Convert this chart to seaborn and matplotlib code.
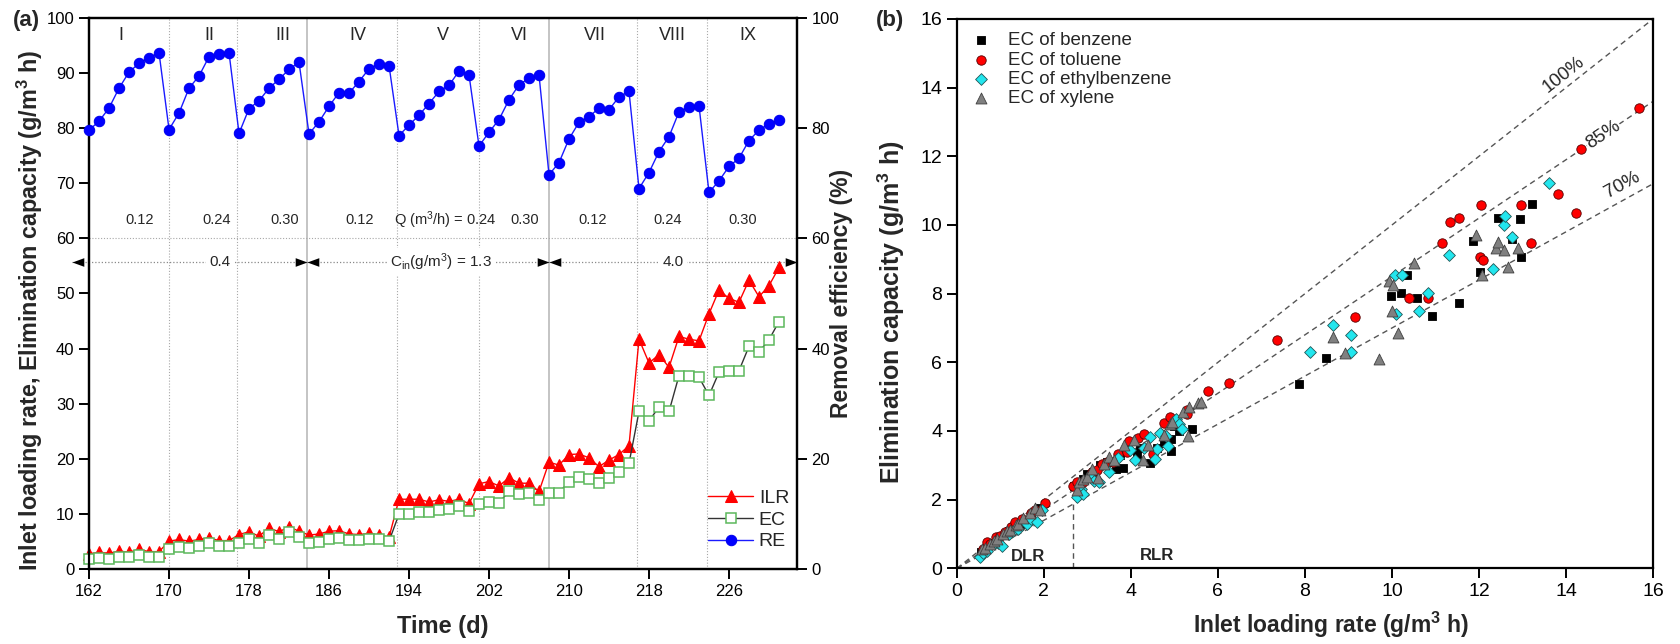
import numpy as np
import pandas as pd
import matplotlib
matplotlib.use("Agg")
import matplotlib.pyplot as plt
import seaborn as sns

# ---------------- data: panel (a), daily operation ----------------
days = list(range(162, 232))
ilr = [2.8, 3.1, 2.9, 3.3, 3.1, 3.6, 3.2, 3.2,
       5.1, 5.4, 5.1, 5.4, 5.7, 5.2, 5.2,
       6.3, 6.8, 6.0, 7.5, 6.8, 7.7, 6.9,
       6.2, 6.4, 6.9, 7.0, 6.4, 6.3, 6.5, 6.2, 5.8,
       12.7, 12.7, 12.7, 12.2, 12.6, 12.3, 12.7, 11.9,
       15.5, 15.9, 15.1, 16.6, 15.6, 15.6, 14.1,
       19.4, 18.9, 20.8, 20.9, 20.2, 18.6, 19.8, 20.8, 22.4,
       41.7, 37.4, 38.9, 36.6, 42.2, 41.7, 41.4,
       46.3, 50.6, 49.1, 48.4, 52.4, 49.4, 51.4, 54.7]
ec = [1.9, 2.0, 1.8, 2.3, 2.2, 2.6, 2.2, 2.3,
      3.7, 4.1, 3.9, 4.3, 4.8, 4.3, 4.2,
      4.8, 5.5, 4.7, 6.3, 5.5, 6.7, 5.9,
      4.8, 5.0, 5.5, 5.7, 5.3, 5.3, 5.5, 5.4, 5.1,
      10.0, 10.1, 10.3, 10.3, 10.7, 10.9, 11.5, 10.6,
      11.8, 12.2, 12.1, 14.1, 13.6, 13.8, 12.6,
      13.8, 13.9, 15.9, 16.7, 16.4, 15.6, 16.5, 17.6, 19.2,
      28.6, 26.9, 29.4, 28.6, 35.1, 35.0, 34.8,
      31.5, 35.7, 35.9, 36.0, 40.4, 39.4, 41.6, 44.9]
re = [79.6, 81.2, 83.6, 87.2, 90.1, 91.7, 92.7, 93.6,
      79.7, 82.7, 87.2, 89.4, 92.9, 93.4, 93.6,
      79.0, 83.5, 84.9, 87.2, 88.8, 90.6, 91.9,
      78.9, 81.1, 83.9, 86.4, 86.3, 88.4, 90.7, 91.6, 91.3,
      78.6, 80.5, 82.3, 84.4, 86.6, 87.7, 90.3, 89.6,
      76.7, 79.2, 81.5, 85.1, 87.8, 89.0, 89.6,
      71.5, 73.7, 78.0, 81.0, 82.0, 83.6, 83.3, 85.6, 86.6,
      69.0, 71.9, 75.7, 78.4, 82.9, 83.8, 84.0,
      68.3, 70.4, 73.0, 74.5, 77.7, 79.6, 80.7, 81.4]

phase_names = ["I", "II", "III", "IV", "V", "VI", "VII", "VIII", "IX"]
phase_label_x = [165.2, 174.0, 181.4, 188.9, 197.4, 205.0, 212.6, 220.3, 227.9]
flow_labels = ["0.12", "0.24", "0.30", "0.12", "Q (m$^3$/h) = 0.24", "0.30", "0.12", "0.24", "0.30"]
flow_label_x = [167.1, 174.8, 181.6, 189.1, 197.6, 205.6, 212.4, 219.9, 227.4]
conc_labels = ["0.4", "C$_{\\mathrm{in}}$(g/m$^3$) = 1.3", "4.0"]
conc_label_x = [175.1, 197.2, 220.4]
conc_spans = [(160.3, 183.8), (183.8, 208.0), (208.0, 232.8)]
minor_bounds = [170.0, 176.8, 192.8, 201.0, 216.8, 223.8]
major_bounds = [183.8, 208.0]

# ---------------- data: panel (b), EC vs inlet loading ----------------
benz_x = [0.55, 0.6, 0.75, 0.85, 0.95, 1.1, 1.2, 1.3, 1.45, 1.5, 1.7, 1.9,
          2.7, 2.9, 3.0, 3.13, 3.3, 3.45, 3.65, 3.75, 3.82, 3.9, 4.13, 4.2, 4.44, 4.6,
          4.75, 4.91, 4.93, 5.0, 5.1, 5.40, 7.87, 8.49, 9.97, 10.20, 10.34, 10.57, 10.91,
          11.55, 11.87, 12.02, 12.44, 12.75, 12.94, 12.96, 13.23]
benz_y = [0.48, 0.5, 0.68, 0.75, 0.85, 1.0, 1.1, 1.2, 1.3, 1.35, 1.55, 1.75,
          2.4, 2.6, 2.75, 2.81, 3.0, 3.1, 2.88, 3.3, 2.91, 3.47, 3.32, 3.5, 3.07, 3.5,
          3.65, 3.42, 3.78, 4.15, 4.0, 4.07, 5.38, 6.14, 7.94, 8.01, 8.54, 7.88, 7.35,
          7.74, 9.54, 8.64, 10.21, 9.58, 10.18, 9.08, 10.61]
tol_x = [0.6, 0.68, 0.75, 0.9, 1.0, 1.1, 1.25, 1.33, 1.5, 1.7, 1.8, 2.02,
         2.66, 2.75, 2.9, 3.1, 3.21, 3.33, 3.45, 3.59, 3.70, 3.90, 3.95, 4.17, 4.3,
         4.51, 4.76, 4.9, 5.05, 5.28, 5.3, 5.78, 6.26, 7.36, 9.15, 10.40, 10.84, 11.16,
         11.33, 11.54, 12.03, 12.09, 12.05, 12.97, 13.2, 13.81, 14.22, 14.34, 15.68]
tol_y = [0.55, 0.77, 0.7, 0.9, 0.95, 1.05, 1.2, 1.35, 1.45, 1.6, 1.7, 1.90,
         2.40, 2.5, 2.5, 2.8, 2.86, 3.05, 3.1, 3.10, 3.32, 3.39, 3.7, 3.81, 3.9,
         3.34, 4.22, 4.4, 4.27, 4.61, 4.5, 5.17, 5.40, 6.65, 7.33, 7.88, 7.88, 9.48,
         10.10, 10.20, 9.08, 8.98, 10.57, 10.57, 9.48, 10.89, 10.36, 12.20, 13.40]
eth_x = [0.53, 0.6, 0.7, 0.85, 0.95, 1.03, 1.2, 1.3, 1.4, 1.6, 1.7, 1.83, 1.95,
         2.77, 2.85, 2.90, 3.05, 3.15, 3.26, 3.5, 3.7, 3.98, 4.10, 4.3, 4.44, 4.56, 4.59,
         4.67, 4.8, 4.86, 5.03, 5.1, 5.18, 8.11, 8.65, 9.06, 9.06, 10.07, 10.09, 10.22,
         10.63, 10.82, 11.32, 12.33, 12.57, 12.6, 12.75, 13.6]
eth_y = [0.33, 0.45, 0.5, 0.7, 0.75, 0.64, 1.0, 1.1, 1.15, 1.3, 1.45, 1.35, 1.7,
         2.08, 2.3, 2.17, 2.66, 2.55, 2.51, 2.8, 3.2, 3.46, 3.15, 3.5, 3.83, 3.17, 3.49,
         3.93, 3.85, 3.56, 4.36, 4.2, 4.07, 6.31, 7.08, 6.80, 6.31, 8.53, 7.41, 8.55,
         7.49, 8.01, 9.13, 8.73, 10.0, 10.26, 9.66, 11.22]
xyl_x = [0.57, 0.65, 0.75, 0.85, 0.92, 1.05, 1.15, 1.22, 1.35, 1.4, 1.53, 1.68, 1.8, 1.91,
         2.75, 2.8, 2.9, 2.99, 3.1, 3.24, 3.39, 3.5, 3.6, 3.85, 4.06, 4.28, 4.4, 4.75,
         4.89, 4.95, 5.2, 5.32, 5.34, 5.55, 5.6, 8.64, 8.92, 9.71, 9.93, 9.99, 10.03,
         10.13, 10.51, 11.93, 12.06, 12.39, 12.44, 12.57, 12.66, 12.9]
xyl_y = [0.57, 0.6, 0.7, 0.8, 0.86, 1.0, 1.1, 1.11, 1.25, 1.3, 1.47, 1.6, 1.75, 1.69,
         2.28, 2.52, 2.6, 2.67, 2.9, 2.62, 3.05, 3.25, 3.15, 3.6, 3.75, 3.15, 3.6, 3.87,
         4.2, 4.25, 4.55, 3.85, 4.71, 4.82, 4.85, 6.73, 6.28, 6.11, 8.38, 7.50, 8.24,
         6.86, 8.89, 9.71, 8.54, 9.32, 9.51, 9.28, 8.77, 9.32]

efficiency_lines = [1.0, 0.85, 0.70]
efficiency_labels = ["100%", "85%", "70%"]
efficiency_label_xy = [(13.94, 14.37), (14.86, 12.62), (15.3, 11.17)]
dlr_rlr_boundary = 2.66

# ---------------- style ----------------
sns.set_style("ticks")
plt.rcParams["font.family"] = ["Liberation Sans", "DejaVu Sans"]
plt.rcParams["mathtext.fontset"] = "custom"
plt.rcParams["mathtext.rm"] = "Liberation Sans"
plt.rcParams["mathtext.it"] = "Liberation Sans:italic"
plt.rcParams["mathtext.bf"] = "Liberation Sans:bold"
plt.rcParams["axes.linewidth"] = 1.6
plt.rcParams["axes.edgecolor"] = "black"

fig = plt.figure(figsize=(16.8, 6.44), dpi=100)
axa = fig.add_axes([0.0530, 0.1160, 0.4214, 0.8568])
axb = fig.add_axes([0.5696, 0.1175, 0.4143, 0.8530])

# ---------------- panel (a) ----------------
df = pd.DataFrame({"day": days, "ILR": ilr, "EC": ec, "RE": re})

for xv in minor_bounds:
    axa.axvline(xv, color="#a8a8a8", ls=(0, (1, 1.6)), lw=0.8, zorder=0)
for xv in major_bounds:
    axa.axvline(xv, color="#c4c4c4", ls="-", lw=1.4, zorder=0)
axa.axhline(60, color="#a8a8a8", ls=(0, (1, 1.6)), lw=0.8, zorder=0)

sns.lineplot(data=df, x="day", y="ILR", ax=axa, color="#ff0000", lw=1.0,
             marker="^", markersize=8, markeredgecolor="#ff0000", clip_on=False, zorder=3)
h_ilr = axa.lines[-1]
sns.lineplot(data=df, x="day", y="EC", ax=axa, color="#333333", lw=1.0,
             marker="s", markersize=6.5, markerfacecolor="white", markeredgecolor="#5cb85c",
             markeredgewidth=1.1, clip_on=False, zorder=4)
h_ec = axa.lines[-1]

axr = axa.twinx()
sns.lineplot(data=df, x="day", y="RE", ax=axr, color="#1a1aff", lw=1.0,
             marker="o", markersize=7.5, markeredgecolor="#0000ee", markerfacecolor="#0000ff",
             clip_on=False, zorder=3)
h_re = axr.lines[-1]

axa.set_xlim(162, 232.8)
axa.set_ylim(0, 100)
axr.set_ylim(0, 100)
axa.set_xticks(np.arange(162, 227, 8))
axa.set_yticks(np.arange(0, 101, 10))
axr.set_yticks(np.arange(0, 101, 20))
for a in (axa, axr):
    a.tick_params(direction="out", length=7, width=1.4, labelsize=12, colors="black")
    for s in a.spines.values():
        s.set_visible(True)
        s.set_linewidth(1.6)
        s.set_color("black")

axa.set_xlabel("Time (d)", fontsize=17, fontweight="bold")
axa.xaxis.set_label_coords(0.5, -0.083)
axa.set_ylabel("Inlet loading rate, Elimination capacity (g/m$^{\\mathbf{3}}$ h)",
               fontsize=16.8, fontweight="bold")
axa.yaxis.set_label_coords(-0.062, 0.47)
axr.set_ylabel("Removal efficiency (%)", fontsize=16.5, fontweight="bold")
axr.yaxis.set_label_coords(1.046, 0.5)

for name, xv in zip(phase_names, phase_label_x):
    axa.text(xv, 96.8, name, ha="center", va="center", fontsize=13)
for lab, xv in zip(flow_labels, flow_label_x):
    axa.text(xv, 63.3, lab, ha="center", va="center", fontsize=10.5)

right_head = [(0, 0), (-3, 1.1), (-3, -1.1), (0, 0)]
left_head = [(0, 0), (3, 1.1), (3, -1.1), (0, 0)]
y_conc = 55.7
for (x0, x1), lab, xt in zip(conc_spans, conc_labels, conc_label_x):
    axa.plot([x0, x1], [y_conc, y_conc], ls=(0, (1, 1.6)), color="#8a8a8a", lw=0.9,
             clip_on=False, zorder=2)
    axa.plot([x0], [y_conc], marker=left_head, ms=17, color="black", mew=0, clip_on=False, zorder=5)
    axa.plot([x1], [y_conc], marker=right_head, ms=17, color="black", mew=0, clip_on=False, zorder=5)
    axa.text(xt, y_conc, lab, ha="center", va="center", fontsize=11, zorder=4,
             bbox=dict(fc="white", ec="none", pad=2.5))

axa.legend([h_ilr, h_ec, h_re], ["ILR", "EC", "RE"], loc="lower right",
           bbox_to_anchor=(1.0, 0.02), frameon=False, fontsize=14,
           handlelength=2.3, handletextpad=0.3, labelspacing=0.22, borderaxespad=0.0)
axr.set_zorder(axa.get_zorder() + 1)
axr.patch.set_visible(False)

fig.text(0.016, 0.968, "(a)", fontsize=16, fontweight="bold", ha="center", va="center")

# ---------------- panel (b) ----------------
xx = np.array([0, 16])
for k in efficiency_lines:
    axb.plot(xx, k * xx, ls=(0, (4, 3)), color="#555555", lw=1.0, zorder=1)
axb.plot([dlr_rlr_boundary, dlr_rlr_boundary], [0, 1.93], ls=(0, (4, 3)),
         color="#555555", lw=1.0, zorder=1)

series = [
    (benz_x, benz_y, "EC of benzene", "s", "black", "black", 30),
    (tol_x, tol_y, "EC of toluene", "o", "#ff0000", "#550000", 46),
    (eth_x, eth_y, "EC of ethylbenzene", "D", "#22e6ee", "#225555", 36),
    (xyl_x, xyl_y, "EC of xylene", "^", "#808080", "#404040", 62),
]
for sx, sy, lab, mk, fc, edge, sz in series:
    sns.scatterplot(x=sx, y=sy, ax=axb, marker=mk, color=fc, edgecolor=edge,
                    linewidth=0.6, s=sz, label=lab, zorder=3, clip_on=False)

axb.set_xlim(0, 16)
axb.set_ylim(0, 16)
axb.set_xticks(np.arange(0, 17, 2))
axb.set_yticks(np.arange(0, 17, 2))
axb.tick_params(direction="out", length=7, width=1.4, labelsize=14, colors="black")
for s in axb.spines.values():
    s.set_visible(True)
    s.set_linewidth(1.6)
    s.set_color("black")
axb.set_xlabel("Inlet loading rate (g/m$^{\\mathbf{3}}$ h)", fontsize=16.5, fontweight="bold")
axb.xaxis.set_label_coords(0.537, -0.075)
axb.set_ylabel("Elimination capacity (g/m$^{\\mathbf{3}}$ h)", fontsize=18, fontweight="bold")
axb.yaxis.set_label_coords(-0.072, 0.467)

fig.canvas.draw()
for k, lab, (tx, ty) in zip(efficiency_lines, efficiency_labels, efficiency_label_xy):
    p0 = axb.transData.transform((0, 0))
    p1 = axb.transData.transform((10, 10 * k))
    ang = np.degrees(np.arctan2(p1[1] - p0[1], p1[0] - p0[0]))
    axb.text(tx, ty, lab, rotation=ang, ha="center", va="center", fontsize=13.5,
             rotation_mode="anchor", bbox=dict(fc="white", ec="none", pad=0.5))

axb.text(1.64, 0.34, "DLR", ha="center", va="center", fontsize=12, fontweight="bold")
axb.text(4.59, 0.36, "RLR", ha="center", va="center", fontsize=12, fontweight="bold")

axb.legend(loc="upper left", bbox_to_anchor=(0.0, 1.0), frameon=False, fontsize=13.5,
           handlelength=1.2, handletextpad=0.8, labelspacing=0.12, borderaxespad=0.3,
           markerscale=1.0)

fig.text(0.530, 0.968, "(b)", fontsize=16, fontweight="bold", ha="center", va="center")

fig.savefig("out.png", dpi=100)
